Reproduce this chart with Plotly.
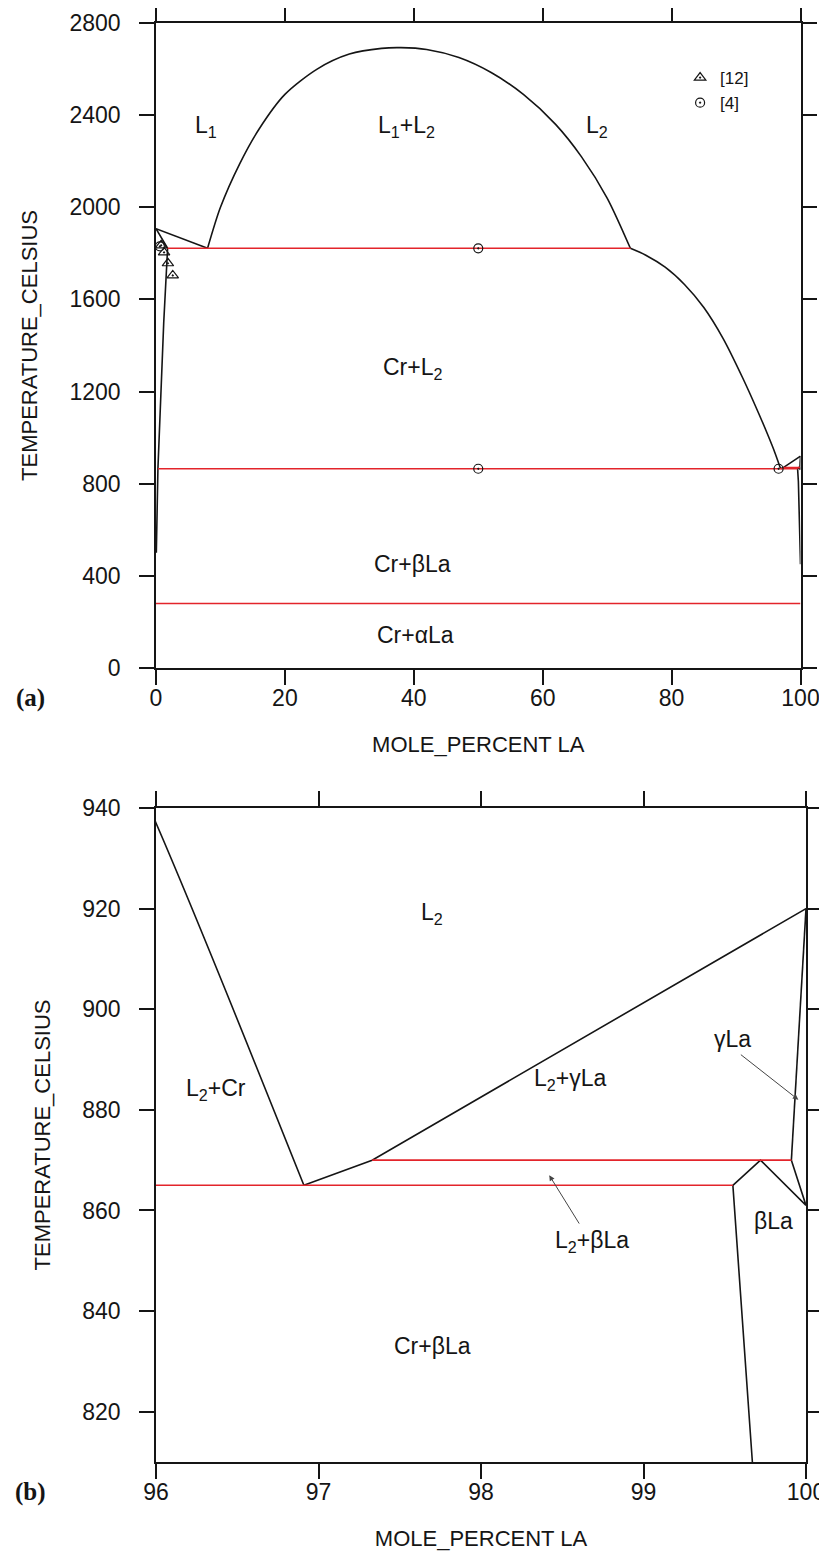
import plotly.graph_objects as go

# ---------------- data (mole percent La, temperature in Celsius) ----------------
# liquid miscibility gap L1+L2
gap_x = [8.0, 10, 13, 16, 20, 25, 30, 35, 38, 42, 47, 52, 57, 62, 66, 70, 73.6]
gap_T = [1822, 2000, 2190, 2340, 2490, 2600, 2665, 2690, 2693, 2685, 2650, 2585, 2490, 2360, 2220, 2040, 1822]
# L1 liquidus (Cr side)
liq1_x = [0.0, 8.0]
liq1_T = [1907, 1822]
# Cr solidus and solvus
crsol_x = [0.0, 1.8, 1.2, 0.6, 0.3, 0.05]
crsol_T = [1907, 1822, 1500, 1100, 865, 500]
# L2 liquidus (Cr + L2)
liq2_x = [73.6, 76, 79, 82, 85, 88, 91, 93.5, 95, 96, 96.91]
liq2_T = [1822, 1792, 1740, 1665, 1565, 1430, 1261, 1106, 1007, 937, 865]
# liquidus of gamma-La
liqg_x = [96.91, 97.33, 100.0]
liqg_T = [865, 870, 920]
# solidus of gamma-La
solg_x = [99.91, 100.0]
solg_T = [870, 920]
# beta-La boundaries
betal_x = [100.0, 99.9, 99.67, 99.55, 99.72, 100.0, 99.91]
betal_T = [450, 600, 810, 865, 870, 861, 870]
# invariant (red) lines
inv_T = [1822, 865, 870, 280]
inv_x0 = [1.8, 0.3, 97.33, 0.0]
inv_x1 = [73.6, 99.55, 99.91, 100.0]
# experimental points
tri_x = [0.8, 1.25, 1.85, 2.6]
tri_T = [1835, 1804, 1757, 1704]
circ_x = [0.6, 50.0, 50.0, 96.6]
circ_T = [1830, 1822, 865, 865]

FONT = "Liberation Sans Narrow, Arial Narrow, Liberation Sans, Arial, sans-serif"
BLACK = "#151515"
RED = "#e3242b"

fig = go.Figure()

panels = [("x", "y"), ("x2", "y2")]
for xa, ya in panels:
    for xs, ts in [(gap_x, gap_T), (liq1_x, liq1_T), (crsol_x, crsol_T),
                   (liq2_x, liq2_T), (liqg_x, liqg_T), (solg_x, solg_T), (betal_x, betal_T)]:
        smooth = xs is gap_x or xs is liq2_x
        fig.add_trace(go.Scatter(x=xs, y=ts, xaxis=xa, yaxis=ya, mode="lines",
                                 line=dict(color=BLACK, width=1.6,
                                           shape="spline" if smooth else "linear",
                                           smoothing=0.8),
                                 showlegend=False, hoverinfo="skip"))
    for t, a, b in zip(inv_T, inv_x0, inv_x1):
        fig.add_trace(go.Scatter(x=[a, b], y=[t, t], xaxis=xa, yaxis=ya, mode="lines",
                                 line=dict(color=RED, width=1.6),
                                 showlegend=False, hoverinfo="skip"))

fig.add_trace(go.Scatter(x=tri_x, y=tri_T, mode="markers", name="[12]",
                         marker=dict(symbol="triangle-up-open-dot", size=10,
                                     color=BLACK, line=dict(width=1.2))))
fig.add_trace(go.Scatter(x=circ_x, y=circ_T, mode="markers", name="[4]",
                         marker=dict(symbol="circle-open-dot", size=9,
                                     color=BLACK, line=dict(width=1.2))))

axis_common = dict(showline=True, linecolor=BLACK, linewidth=1.5, mirror="ticks",
                   ticks="outside", ticklen=15, tickwidth=1.5, tickcolor=BLACK,
                   showgrid=False, zeroline=False, automargin=False,
                   tickfont=dict(family=FONT, size=23, color=BLACK))
title_font = dict(family=FONT, size=22, color=BLACK)

# the page body has an 8 px margin, so the figure starts at (8, 8) in the window
OFF = 8
W, H = 827 - OFF, 1553 - OFF
# target positions below are given in window pixels
ML, MR, MT, MB = 155.5 - OFF, 21, 23 - OFF, 1553 - 1462
PW, PH = W - ML - MR, H - MT - MB

def py(p):
    return (H - MB - (p - OFF)) / PH

def px(p):
    return ((p - OFF) - ML) / PW

fig.update_layout(
    width=W, height=H, paper_bgcolor="white", plot_bgcolor="white",
    margin=dict(l=ML, r=MR, t=MT, b=MB, autoexpand=False),
    font=dict(family=FONT, color=BLACK),
    xaxis=dict(axis_common, domain=[0, px(800.5)], range=[0, 100],
               tickvals=[0, 20, 40, 60, 80, 100], anchor="y", ticklabelstandoff=-6,
               title=dict(text="MOLE_PERCENT LA", font=title_font, standoff=26)),
    yaxis=dict(axis_common, domain=[py(668), py(23)], range=[0, 2800],
               tickvals=[0, 400, 800, 1200, 1600, 2000, 2400, 2800], anchor="x",
               ticklabelstandoff=14,
               title=dict(text="TEMPERATURE_CELSIUS", font=title_font, standoff=26)),
    xaxis2=dict(axis_common, domain=[0, 1], range=[96, 100],
                tickvals=[96, 97, 98, 99, 100], anchor="y2", ticklabelstandoff=-6,
                title=dict(text="MOLE_PERCENT LA", font=title_font, standoff=26)),
    yaxis2=dict(axis_common, domain=[0, py(808)], range=[810, 940],
                tickvals=[820, 840, 860, 880, 900, 920, 940], anchor="x2",
                ticklabelstandoff=14,
                title=dict(text="TEMPERATURE_CELSIUS", font=title_font, standoff=26)),
    legend=dict(x=px(680), y=py(60), xanchor="left", yanchor="top",
                bgcolor="rgba(0,0,0,0)", borderwidth=0,
                font=dict(family=FONT, size=17, color=BLACK),
                tracegroupgap=0, itemwidth=30),
)

lab = dict(family=FONT, size=23, color=BLACK)
ann = []
for txt, x, y in [("L<sub>1</sub>", 7.8, 2350), ("L<sub>1</sub>+L<sub>2</sub>", 38.8, 2350),
                  ("L<sub>2</sub>", 68.5, 2350), ("Cr+L<sub>2</sub>", 39.8, 1300),
                  ("Cr+βLa", 39.8, 450), ("Cr+αLa", 40.2, 145)]:
    ann.append(dict(text=txt, x=x, y=y, xref="x", yref="y", showarrow=False, font=lab))
for txt, x, y in [("L<sub>2</sub>", 97.7, 919), ("L<sub>2</sub>+Cr", 96.37, 884),
                  ("L<sub>2</sub>+γLa", 98.55, 886), ("γLa", 99.55, 894),
                  ("L<sub>2</sub>+βLa", 98.68, 853.8), ("βLa", 99.8, 858),
                  ("Cr+βLa", 97.7, 833)]:
    ann.append(dict(text=txt, x=x, y=y, xref="x2", yref="y2", showarrow=False, font=lab))
# pointer arrows
for hx, hy, tx, ty in [(99.953, 882, 99.59, 891.2), (98.42, 867, 98.61, 857.1)]:
    ann.append(dict(text="", x=hx, y=hy, ax=tx, ay=ty, xref="x2", yref="y2",
                    axref="x2", ayref="y2", showarrow=True, arrowhead=2,
                    arrowsize=1.1, arrowwidth=1, arrowcolor="#444"))
# panel letters
serif = dict(family="Liberation Serif, Times New Roman, serif", size=25, color=BLACK)
ann.append(dict(text="<b>(a)</b>", x=px(30), y=py(698), xref="paper", yref="paper",
                xanchor="center", yanchor="middle", showarrow=False, font=serif))
ann.append(dict(text="<b>(b)</b>", x=px(30), y=py(1492), xref="paper", yref="paper",
                xanchor="center", yanchor="middle", showarrow=False, font=serif))
fig.update_layout(annotations=ann)

fig.write_html("out.html")
